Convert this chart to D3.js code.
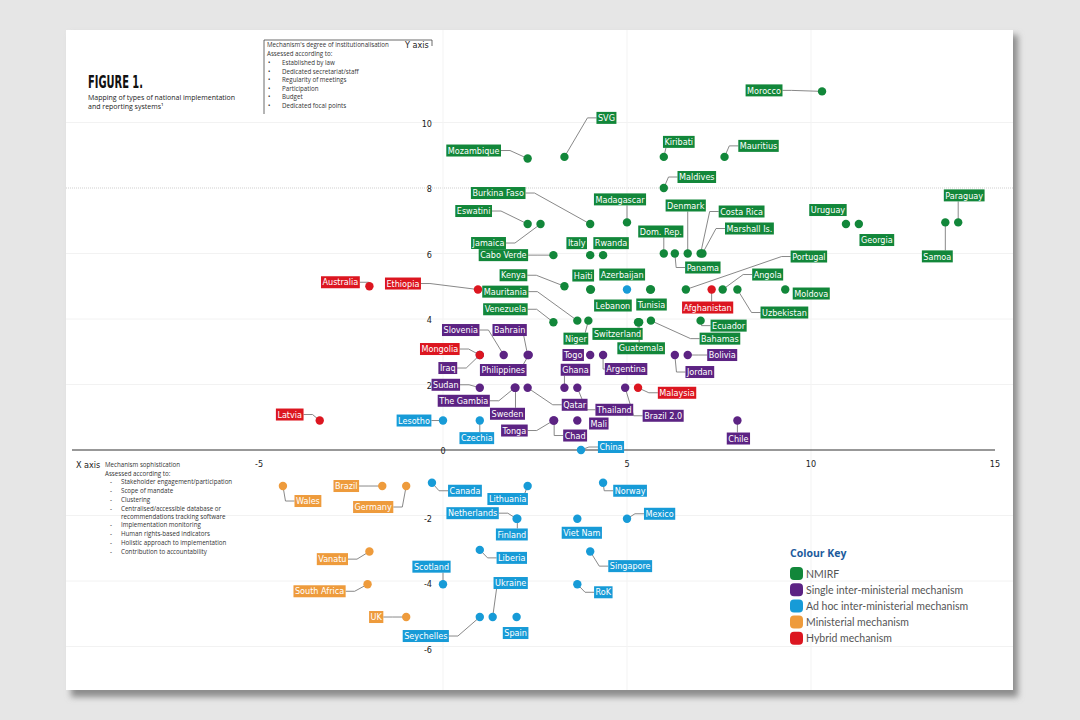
<!DOCTYPE html>
<html>
<head>
<meta charset="utf-8">
<script src="https://cdn.jsdelivr.net/npm/d3@7"></script>
<style>
body{margin:0;background:#e6e6e6;}
svg{display:block;}
</style>
</head>
<body>
<script>
// x = mechanism sophistication, y = degree of institutionalisation
var nmirf = [
	["Morocco",10.3,10.95],["SVG",3.3,8.95],["Mozambique",2.3,8.9],["Kiribati",6.0,8.95],
	["Mauritius",7.65,8.95],["Maldives",6.0,8.0],["Burkina Faso",4.0,6.9],["Madagascar",5.0,6.95],
	["Eswatini",2.3,6.9],["Jamaica",2.65,6.9],["Cabo Verde",3.0,5.95],["Italy",4.0,5.95],
	["Rwanda",4.35,5.95],["Dom. Rep.",6.0,6.0],["Panama",6.3,6.0],["Denmark",6.65,6.0],
	["Costa Rica",7.0,6.0],["Marshall Is.",7.05,6.0],["Uruguay",10.95,6.9],["Georgia",11.3,6.9],
	["Samoa",13.65,6.95],["Paraguay",14.0,6.95],["Kenya",3.3,5.0],["Haiti",4.0,4.9],
	["Lebanon",4.02,4.9],["Azerbaijan",5.63,4.9],["Tunisia",5.65,4.9],["Portugal",6.6,4.9],
	["Angola",7.6,4.9],["Uzbekistan",8.0,4.9],["Moldova",9.3,4.9],["Mauritania",3.65,3.95],
	["Niger",3.95,3.95],["Venezuela",3.0,3.9],["Switzerland",5.3,3.9],["Guatemala",5.33,3.9],
	["Bahamas",5.65,3.95],["Ecuador",7.0,3.95]
];
var singleInter = [
	["Slovenia",1.65,2.9],["Bahrain",2.3,2.9],["Philippines",2.33,2.9],["Iraq",1.0,2.9],
	["Sudan",1.0,1.9],["The Gambia",1.95,1.9],["Sweden",1.97,1.9],["Qatar",2.3,1.9],
	["Tonga",3.0,0.9],["Chad",3.02,0.9],["Mali",3.65,0.9],["Togo",4.0,2.9],
	["Argentina",4.35,2.9],["Ghana",3.3,1.9],["Thailand",3.65,1.9],["Brazil 2.0",4.95,1.9],
	["Jordan",6.3,2.9],["Bolivia",6.65,2.9],["Chile",8.0,0.9]
];
var adHoc = [
	["Lesotho",0.0,0.9],["Czechia",1.0,0.9],["China",3.75,0],["Canada",-0.3,-1.0],
	["Lithuania",2.3,-1.1],["Netherlands",2.0,-2.1],["Finland",2.02,-2.1],["Liberia",1.0,-3.05],
	["Scotland",0.0,-4.1],["Seychelles",1.0,-5.1],["Ukraine",1.35,-5.1],["Spain",2.0,-5.1],
	["Norway",4.35,-1.0],["Mexico",5.0,-2.1],["Viet Nam",3.65,-2.1],["Singapore",4.0,-3.1],
	["RoK",3.65,-4.1],["",5.0,4.9]
];
var ministerial = [
	["Wales",-4.35,-1.1],["Brazil",-1.65,-1.1],["Germany",-1.0,-1.1],["Vanatu",-2.0,-3.1],
	["South Africa",-2.05,-4.1],["UK",-1.0,-5.1]
];
var hybrid = [
	["Australia",-2.0,5.0],["Ethiopia",0.95,4.9],["Mongolia",1.0,2.9],["Latvia",-3.35,0.9],
	["Afghanistan",7.3,4.9],["Malaysia",5.3,1.9]
];
var groupNames = ["NMIRF","Single inter-ministerial mechanism","Ad hoc inter-ministerial mechanism","Ministerial mechanism","Hybrid mechanism"];
var xTicks = [-5,0,5,10,15];
var yTicks = [10,8,6,4,2,-2,-4,-6];

var colours = ["#12873a","#5c2383","#179bd7","#ee9b3c","#dc1620"];

// label placement: pixel offset of label centre from its dot, and side the leader leaves from
var labelPos = {
	"Morocco":[-58,-1,"r"],"SVG":[42,-39,"l"],"Mozambique":[-54,-8,"r"],"Kiribati":[15,-15,"b"],
	"Mauritius":[34,-11,"l"],"Maldives":[33,-11,"l"],"Burkina Faso":[-92,-31,"r"],"Madagascar":[-7,-23,"b"],
	"Eswatini":[-54,-13,"r"],"Jamaica":[-52,19,"r"],"Cabo Verde":[-50,0,"r"],"Italy":[-13.5,-12,""],
	"Rwanda":[8,-12,""],"Dom. Rep.":[-3,-22,"b"],"Panama":[28,14,"l"],"Denmark":[-2,-48,"b"],
	"Costa Rica":[41,-42,"l"],"Marshall Is.":[47,-25,"l"],"Uruguay":[-18,-14,""],"Georgia":[18,16,""],
	"Paraguay":[6,-27,"b"],"Samoa":[-8,34,"t"],"Kenya":[-51,-11,"r"],"Haiti":[-7,-14,""],
	"Lebanon":[22,16,""],"Azerbaijan":[-28,-15,""],"Tunisia":[0.6,15,""],"Portugal":[123,-33,"l"],
	"Angola":[45,-15,"l"],"Uzbekistan":[47,23,"l"],"Moldova":[26,4,""],"Mauritania":[-72,-29,"r"],
	"Niger":[-12.5,18,"t"],"Venezuela":[-48,-13,"r"],"Switzerland":[-20.5,11.6,"t"],"Guatemala":[2,26,"t"],
	"Bahamas":[69,18,"l"],"Ecuador":[28,5,"l"],
	"Slovenia":[-43,-25,"r"],"Bahrain":[-18,-25,"b"],"Philippines":[-25.5,15,"t"],"Iraq":[-32,13,"r"],
	"Sudan":[-34,-3,"r"],"The Gambia":[-51,13,"r"],"Sweden":[-8,26,"t"],"Qatar":[47,17,"l"],
	"Tonga":[-39,10,"r"],"Chad":[21,15,"l"],"Mali":[21.5,3,""],"Togo":[-17,0,""],
	"Argentina":[23,14,"l"],"Ghana":[11,-18,"b"],"Thailand":[37,22,"l"],"Brazil 2.0":[38,28,"l"],
	"Jordan":[25,17,"l"],"Bolivia":[34.5,0,"l"],"Chile":[1,18,"t"],
	"Australia":[-29,-4,"r"],"Ethiopia":[-75,-6,"r"],"Mongolia":[-40,-6,"r"],"Latvia":[-30,-6,"r"],
	"Afghanistan":[-4,18,"t"],"Malaysia":[39,5,"l"],
	"Lesotho":[-29,0,"r"],"Czechia":[-3,17.6,"t"],"China":[30,-3,"l"],"Canada":[33,8,"l"],
	"Lithuania":[-20,13,"t"],"Netherlands":[-44,-5.6,"r"],"Finland":[-5.5,15.7,"t"],"Liberia":[32,8,"l"],
	"Scotland":[-11.5,-17.6,"b"],"Ukraine":[18,-34,"b"],"Seychelles":[-54,19,"r"],"Spain":[-1,16,""],
	"Norway":[27,8,"l"],"Mexico":[32.6,-5,"l"],"Viet Nam":[4.5,14,""],"Singapore":[40,14.6,"l"],
	"RoK":[26,8,"l"],
	"Wales":[25,15,"l"],"Brazil":[-36,0,"r"],"Germany":[-33,21,"r"],"Vanatu":[-37,7.6,"r"],
	"South Africa":[-48,7,"r"],"UK":[-30,0,"r"]
};

var W = 1080, H = 720;
var labelFont = "'DejaVu Sans Condensed','Liberation Sans Narrow',sans-serif";

var svg = d3.select("body").append("svg").attr("width", W).attr("height", H);
var defs = svg.append("defs");
var f = defs.append("filter").attr("id","shadow").attr("x","-5%").attr("y","-5%").attr("width","110%").attr("height","110%");
f.append("feGaussianBlur").attr("stdDeviation", 3);

// card
svg.append("rect").attr("x",71).attr("y",35).attr("width",947).attr("height",662)
	.attr("fill","#8c8c8c").attr("filter","url(#shadow)");
svg.append("rect").attr("x",66).attr("y",30).attr("width",947).attr("height",660).attr("fill","#fff");

var x = d3.scaleLinear().domain([-5,15]).range([259,995]);
var y = d3.scaleLinear().domain([0,10]).range([450,122.5]);

// faint grid
var grid = svg.append("g");
grid.selectAll("line.h").data(yTicks).enter().append("line")
	.attr("x1",66).attr("x2",1013)
	.attr("y1", function(d){return y(d);}).attr("y2", function(d){return y(d);})
	.attr("stroke", function(d){return d==8 ? "#cfcfcf" : "#f2f2f2";})
	.attr("stroke-dasharray", function(d){return d==8 ? "1,1" : null;});
grid.selectAll("line.v").data([0,5,10]).enter().append("line")
	.attr("y1",30).attr("y2",690)
	.attr("x1", function(d){return x(d);}).attr("x2", function(d){return x(d);})
	.attr("stroke","#f3f3f3");

// axis
svg.append("line").attr("x1",72).attr("x2",x(15)).attr("y1",y(0)).attr("y2",y(0))
	.attr("stroke","#333").attr("stroke-width",1.2);
svg.append("g").selectAll("text").data(xTicks).enter().append("text")
	.attr("x", function(d){return x(d);})
	.attr("y", function(d){return d==0 ? y(0)+4 : y(0)+17;})
	.attr("text-anchor","middle")
	.attr("font-family",labelFont).attr("font-size",9).attr("fill","#222")
	.text(function(d){return d;});
svg.append("g").selectAll("text").data(yTicks).enter().append("text")
	.attr("x",432).attr("y", function(d){return y(d)+(d<0 ? 6 : 4);})
	.attr("text-anchor","end")
	.attr("font-family",labelFont).attr("font-size",9).attr("fill","#222")
	.text(function(d){return d;});

// title
svg.append("text").attr("x",88).attr("y",88).text("FIGURE 1.")
	.attr("font-family","'Liberation Sans Narrow','DejaVu Sans Condensed',sans-serif")
	.attr("font-weight","bold").attr("font-size",18).attr("fill","#111")
	.attr("textLength",55).attr("lengthAdjust","spacingAndGlyphs");
svg.append("text").attr("x",88).attr("y",100).attr("font-family","'Open Sans',sans-serif")
	.attr("font-size",7).attr("fill","#222").text("Mapping of types of national implementation");
svg.append("text").attr("x",88).attr("y",109).attr("font-family","'Open Sans',sans-serif")
	.attr("font-size",7).attr("fill","#222").text("and reporting systems¹");

// y axis note
var yNote = svg.append("g").attr("font-family","'Open Sans',sans-serif").attr("fill","#333");
yNote.append("path").attr("d","M264,114V40H432V46").attr("fill","none").attr("stroke","#444").attr("stroke-width",0.8);
yNote.append("text").attr("x",267).attr("y",47).attr("font-size",6.2).text("Mechanism's degree of institutionalisation");
yNote.append("text").attr("x",405).attr("y",48).attr("font-size",9).attr("font-family",labelFont).attr("fill","#222").text("Y axis");
yNote.append("text").attr("x",267).attr("y",56).attr("font-size",6.2).text("Assessed according to:");
var yBul = ["Established by law","Dedicated secretariat/staff","Regularity of meetings","Participation","Budget","Dedicated focal points"];
yBul.forEach(function(t,i){
	yNote.append("text").attr("x",268).attr("y",65+i*8.6).attr("font-size",6.2).text("•");
	yNote.append("text").attr("x",282).attr("y",65+i*8.6).attr("font-size",6.2).text(t);
});

// x axis note
var xNote = svg.append("g").attr("font-family","'Open Sans',sans-serif").attr("fill","#333");
xNote.append("text").attr("x",76).attr("y",468).attr("font-size",9).attr("font-family",labelFont).attr("fill","#222").text("X axis");
xNote.append("text").attr("x",105).attr("y",467).attr("font-size",6.2).text("Mechanism sophistication");
xNote.append("text").attr("x",105).attr("y",476).attr("font-size",6.2).text("Assessed according to:");
var xBul = ["Stakeholder engagement/participation","Scope of mandate","Clustering",
	"Centralised/accessible database or","recommendations tracking software",
	"Implementation monitoring","Human rights-based indicators","Holistic approach to implementation","Contribution to accountability"];
xBul.forEach(function(t,i){
	var yy = [484,493,502,511,518.5,527,536,545,554][i];
	if (i != 4) xNote.append("text").attr("x",110).attr("y",yy).attr("font-size",6.2).text("-");
	xNote.append("text").attr("x",121).attr("y",yy).attr("font-size",6.2).text(t);
});

// points
var allGroups = [nmirf, singleInter, adHoc, ministerial, hybrid];
var pts = [];
allGroups.forEach(function(g, gi){
	g.forEach(function(r){
		pts.push({name:r[0], px:x(r[1]), py:y(r[2]), c:colours[gi]});
	});
});

var lineG = svg.append("g");
var dotG = svg.append("g");
var labG = svg.append("g");

// labels first (to measure), leaders after
pts.forEach(function(p){
	if (!p.name) return;
	var lp = labelPos[p.name] || [20,0,"l"];
	var cx = p.px + lp[0], cy = p.py + lp[1];
	var g = labG.append("g");
	var rect = g.append("rect").attr("fill", p.c);
	var t = g.append("text").attr("x",cx).attr("y",cy+3.2).attr("text-anchor","middle")
		.attr("font-family",labelFont).attr("font-size",9).attr("fill","#fff").text(p.name);
	var w = t.node().getComputedTextLength() + 3;
	var bx1 = cx - w/2, bx2 = cx + w/2, by1 = cy - 6, by2 = cy + 6;
	rect.attr("x",bx1).attr("y",by1).attr("width",w).attr("height",12);
	var side = lp[2], pth = null;
	if (side == "r") {
		var ex = Math.min(bx2 + 9, p.px);
		pth = [[bx2,cy],[ex,cy],[p.px,p.py]];
	} else if (side == "l") {
		var ex2 = Math.max(bx1 - 9, p.px);
		pth = [[bx1,cy],[ex2,cy],[p.px,p.py]];
	} else if (side == "t") {
		pth = [[Math.max(bx1+3, Math.min(bx2-3, p.px)), by1],[p.px,p.py]];
	} else if (side == "b") {
		pth = [[Math.max(bx1+3, Math.min(bx2-3, p.px)), by2],[p.px,p.py]];
	}
	if (pth) lineG.append("path").attr("d", d3.line()(pth))
		.attr("fill","none").attr("stroke","#7b7b7b").attr("stroke-width",0.9);
});

dotG.selectAll("circle").data(pts).enter().append("circle")
	.attr("cx", function(d){return d.px;}).attr("cy", function(d){return d.py;})
	.attr("r",4.2).attr("fill", function(d){return d.c;});

// legend
var leg = svg.append("g").attr("transform","translate(790,553)");
leg.append("text").attr("x",0).attr("y",3.5).attr("font-family","'Open Sans',sans-serif")
	.attr("font-weight","bold").attr("font-size",10.5).attr("fill","#1d5b9c").text("Colour Key");
groupNames.forEach(function(n,i){
	leg.append("rect").attr("x",0).attr("y",14+i*16.2).attr("width",13).attr("height",13).attr("rx",4)
		.attr("fill",colours[i]);
	leg.append("text").attr("x",16).attr("y",24.5+i*16.2).attr("font-family","Lato,sans-serif")
		.attr("font-size",10.5).attr("fill","#555").text(n);
});
</script>
</body>
</html>
